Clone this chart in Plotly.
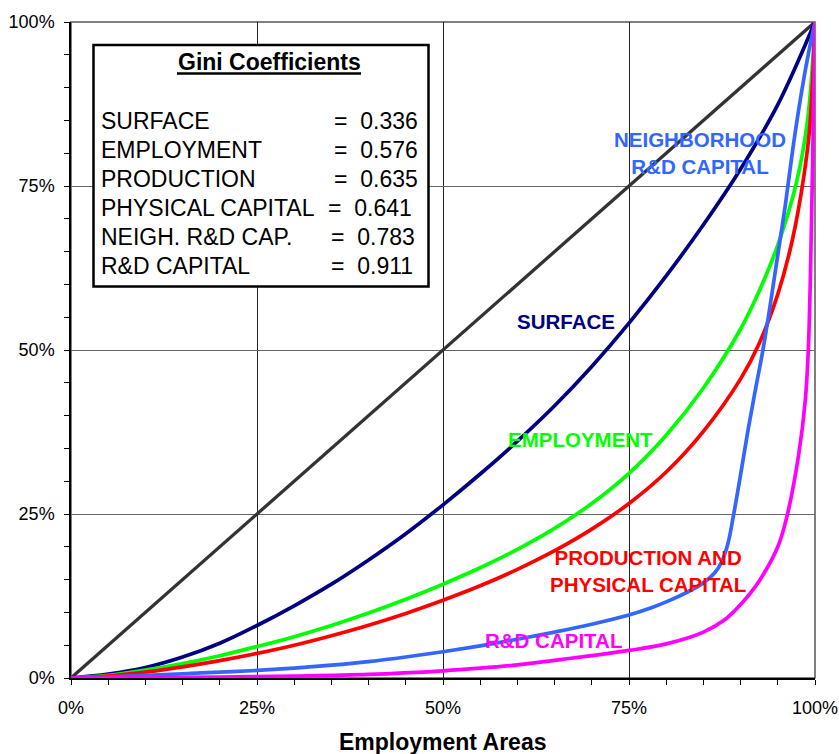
import plotly.graph_objects as go

# ---------------- data (percent of total) ----------------
equal_x = [0, 100]
equal_y = [0, 100]

surface_x = [0, 5, 10, 15, 20, 25, 30, 35, 40, 45, 50, 55, 60, 65, 70, 75, 80, 85, 90, 95, 100]
surface_y = [0, 0.6, 1.6, 3.2, 5.3, 8.0, 11.0, 14.3, 18.0, 22.0, 26.4, 31.1, 36.1, 41.5, 47.5, 54.1, 61.3, 69.1, 77.6, 87.4, 100]

employment_x = [0, 5, 10, 15, 20, 25, 30, 35, 40, 45, 50, 55, 60, 65, 70, 75, 80, 85, 90, 92.5, 95, 97.5, 99, 100]
employment_y = [0, 0.4, 1.2, 2.2, 3.4, 4.8, 6.3, 8.0, 9.9, 12.0, 14.3, 16.8, 19.6, 22.8, 26.6, 31.2, 37.0, 44.2, 53.2, 59.0, 66.0, 75.5, 85.0, 100]

production_x = [0, 5, 10, 15, 20, 25, 30, 35, 40, 45, 50, 55, 60, 65, 70, 75, 80, 85, 90, 92.5, 95, 97, 98.5, 99.3, 100]
production_y = [0, 0.3, 0.9, 1.7, 2.65, 3.75, 5.0, 6.45, 8.05, 9.85, 11.85, 14.05, 16.55, 19.4, 22.7, 26.6, 31.4, 37.6, 45.6, 51.0, 58.5, 67.0, 76.5, 84.0, 100]

neigh_x = [0, 5, 10, 15, 20, 25, 30, 35, 40, 45, 50, 55, 60, 65, 70, 75, 78, 80, 82.5, 85, 86.5, 87.5, 88.3, 89,
           90, 91, 92, 93, 94, 95, 96, 97, 98, 99, 100]
neigh_y = [0, 0.15, 0.4, 0.65, 0.9, 1.15, 1.5, 1.95, 2.5, 3.2, 4.0, 4.9, 5.9, 7.0, 8.2, 9.6, 10.7, 11.6, 12.9, 14.5, 16.0, 17.8, 20.5, 24.5,
           31.0, 37.8, 44.0, 50.0, 57.0, 64.5, 72.0, 80.5, 88.0, 94.5, 100]

rd_x = [0, 10, 20, 30, 40, 50, 55, 60, 65, 70, 75, 80, 85, 88, 90, 92.5, 95, 96.2, 97.8, 98.7, 99.1, 99.4, 99.7, 100]
rd_y = [0, 0.05, 0.15, 0.3, 0.55, 1.1, 1.5, 2.0, 2.7, 3.4, 4.2, 5.2, 7.0, 9.0, 11.2, 14.8, 20.0, 24.5, 34.0, 42.4, 50.0, 62.0, 80.0, 100]

gini_labels = ["SURFACE", "EMPLOYMENT", "PRODUCTION", "PHYSICAL CAPITAL", "NEIGH. R&D CAP.", "R&D CAPITAL"]
gini_values = ["0.336", "0.576", "0.635", "0.641", "0.783", "0.911"]

tick_vals = [0, 25, 50, 75, 100]
tick_text = ["0%", "25%", "50%", "75%", "100%"]

# ---------------- figure ----------------
W, H = 839, 754
L, R, T, B = 71, 24, 22, 76
PW, PH = W - L - R, H - T - B

def px(xp):  # pixel -> paper x
    return (xp - L) / PW

def py(yp):  # pixel -> paper y
    return (H - B - yp) / PH

FONT = "Liberation Sans, Arial, sans-serif"

fig = go.Figure()

series = [
    (equal_x, equal_y, "#333333", "Equality", 3.3),
    (surface_x, surface_y, "#000080", "Surface", 3.7),
    (employment_x, employment_y, "#00FF00", "Employment", 3.7),
    (production_x, production_y, "#FF0000", "Production", 3.7),
    (neigh_x, neigh_y, "#3366FF", "Neighborhood R&D capital", 3.7),
    (rd_x, rd_y, "#FF00FF", "R&D capital", 3.7),
]
for xs, ys, col, name, w in series:
    fig.add_trace(go.Scatter(x=xs, y=ys, mode="lines", name=name,
                             line=dict(color=col, width=w, shape="spline", smoothing=1.0),
                             hoverinfo="skip"))

axis_common = dict(
    range=[0, 100], tickvals=tick_vals, ticktext=tick_text, tickmode="array",
    showline=True, linecolor="black", linewidth=1.5,
    ticks="outside", ticklen=5, tickcolor="black", tickwidth=1.2,
    tickfont=dict(family=FONT, size=18, color="black"),
    minor=dict(dtick=5, ticks="outside", ticklen=5, tickcolor="black", tickwidth=1, showgrid=False),
    zeroline=False, fixedrange=True, automargin=False,
)
fig.update_xaxes(**axis_common, showgrid=True, gridcolor="#222222", gridwidth=1, ticklabelstandoff=8)
fig.update_yaxes(**axis_common, showgrid=True, gridcolor="#666666", gridwidth=1.3, ticklabelstandoff=6)

shapes = [
    dict(type="rect", xref="paper", yref="paper", x0=0, x1=1, y0=0, y1=1,
         line=dict(color="#555555", width=1.5), layer="below"),
    dict(type="rect", xref="paper", yref="paper", x0=px(93.5), x1=px(428.5), y0=py(45), y1=py(286.5),
         fillcolor="white", line=dict(color="black", width=2.5), layer="above"),
    dict(type="line", xref="paper", yref="paper", x0=px(177), x1=px(361), y0=py(73.5), y1=py(73.5),
         line=dict(color="black", width=2.5), layer="above"),
]

annotations = []
annotations.append(dict(text="<b>Gini Coefficients</b>", xref="paper", yref="paper",
                        x=px(269), y=py(62), xanchor="center", yanchor="middle", showarrow=False,
                        font=dict(family=FONT, size=23, color="black")))
row_y = [121, 150, 179, 208, 237, 266]
eq_x = [332, 332, 332, 326, 329, 329]
for lab, val, yy, ex in zip(gini_labels, gini_values, row_y, eq_x):
    annotations.append(dict(text=lab, xref="paper", yref="paper", x=px(99), y=py(yy),
                            xanchor="left", yanchor="middle", showarrow=False,
                            font=dict(family=FONT, size=23, color="black")))
    annotations.append(dict(text="=\u00a0\u00a0" + val, xref="paper", yref="paper", x=px(ex), y=py(yy),
                            xanchor="left", yanchor="middle", showarrow=False,
                            font=dict(family=FONT, size=23, color="black")))

curve_labels = [
    ("<b>NEIGHBORHOOD<br>R&D CAPITAL</b>", 700, 152.5, "#3366FF"),
    ("<b>SURFACE</b>", 566, 321, "#000080"),
    ("<b>EMPLOYMENT</b>", 580, 439, "#00FF00"),
    ("<b>PRODUCTION AND<br>PHYSICAL CAPITAL</b>", 648, 571, "#FF0000"),
    ("<b>R&D CAPITAL</b>", 553, 640, "#FF00FF"),
]
for txt, xx, yy, col in curve_labels:
    annotations.append(dict(text=txt, xref="paper", yref="paper", x=px(xx), y=py(yy),
                            xanchor="center", yanchor="middle", showarrow=False, align="center",
                            font=dict(family=FONT, size=20.5, color=col)))

annotations.append(dict(text="<b>Employment Areas</b>", xref="paper", yref="paper",
                        x=0.5, y=py(742), xanchor="center", yanchor="middle", showarrow=False,
                        font=dict(family=FONT, size=23, color="black")))

fig.update_layout(
    width=W, height=H, autosize=False,
    margin=dict(l=L, r=R, t=T, b=B, pad=0, autoexpand=False),
    paper_bgcolor="white", plot_bgcolor="white",
    showlegend=False,
    shapes=shapes, annotations=annotations,
    font=dict(family=FONT, color="black"),
)

fig.write_html("out.html", config={"displayModeBar": False},
               post_script="document.body.style.margin='0';document.body.style.padding='0';")
